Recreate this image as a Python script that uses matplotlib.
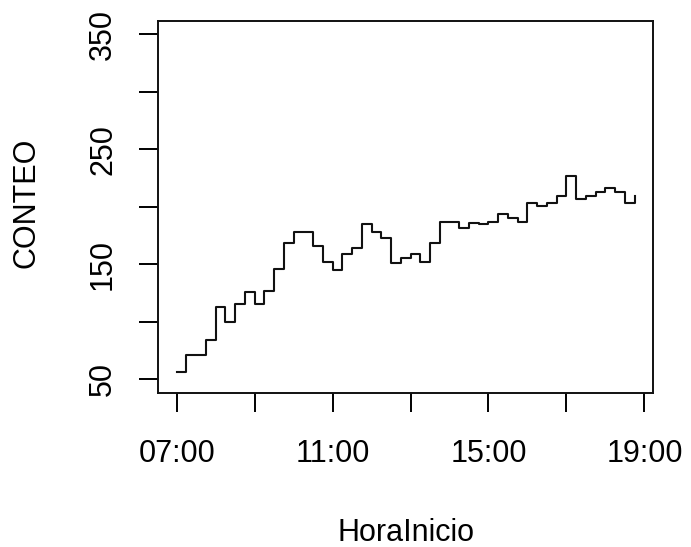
import matplotlib
matplotlib.use("Agg")
import matplotlib.pyplot as plt

plt.rcParams['font.family'] = ['Liberation Sans', 'DejaVu Sans']

horas = ["07:00", "07:15", "07:30", "07:45", "08:00", "08:15", "08:30", "08:45",
         "09:00", "09:15", "09:30", "09:45", "10:00", "10:15", "10:30", "10:45",
         "11:00", "11:15", "11:30", "11:45", "12:00", "12:15", "12:30", "12:45",
         "13:00", "13:15", "13:30", "13:45", "14:00", "14:15", "14:30", "14:45",
         "15:00", "15:15", "15:30", "15:45", "16:00", "16:15", "16:30", "16:45",
         "17:00", "17:15", "17:30", "17:45", "18:00", "18:15", "18:30", "18:45"]
conteo = [56, 71, 71, 84, 113, 100, 115, 126, 115, 127, 146, 168,
          178, 178, 166, 152, 145, 159, 164, 185, 178, 173, 151, 155,
          159, 152, 168, 187, 187, 181, 186, 185, 187, 194, 190, 187,
          203, 201, 203, 209, 227, 207, 209, 213, 216, 213, 203, 209]

xticks = [7, 9, 11, 13, 15, 17, 19]
xtick_labels = ["07:00", "", "11:00", "", "15:00", "", "19:00"]
yticks = [50, 100, 150, 200, 250, 300, 350]
ytick_labels = ["50", "", "150", "", "250", "", "350"]

def to_hours(s):
    h, m = s.split(":")
    return int(h) + int(m) / 60.0

x = [to_hours(s) for s in horas]

fig = plt.figure(figsize=(6.91, 5.47), dpi=100)
ax = fig.add_axes([0.2291, 0.2821, 0.7159, 0.6801])

ax.step(x, conteo, where='post', color='#111111', linewidth=1.5)

span = x[-1] - x[0]
ax.set_xlim(x[0] - 0.04 * span, x[-1] + 0.04 * span)
ax.set_ylim(50 - 0.04 * 300, 350 + 0.04 * 300)

ax.set_xticks(xticks)
ax.set_xticklabels(xtick_labels)
ax.set_yticks(yticks)
ax.set_yticklabels(ytick_labels, rotation=90, va='center')

fs = 22
ax.tick_params(axis='both', direction='out', length=13.5, width=1.4,
               labelsize=fs, colors='black')
ax.tick_params(axis='x', pad=20)
ax.tick_params(axis='y', pad=15.5)

for s in ax.spines.values():
    s.set_linewidth(1.4)
    s.set_color('#111111')

ax.set_xlabel("HoraInicio", fontsize=fs)
ax.set_ylabel("CONTEO", fontsize=fs)
ax.xaxis.set_label_coords(0.5, -0.336)
ax.yaxis.set_label_coords(-0.236, 0.51)

fig.savefig("out.png", dpi=100)
